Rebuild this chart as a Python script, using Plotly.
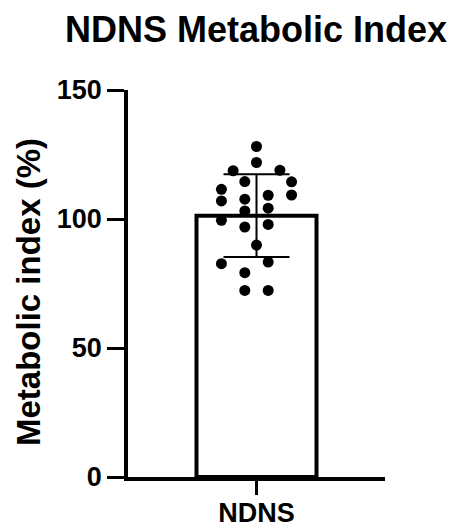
import plotly.graph_objects as go

# Data
category = ["NDNS"]
bar_mean = [101.3]
bar_sd = [16.0]
points = [128.1, 121.9, 118.7, 118.9, 114.5, 114.4, 111.5, 109.3, 109.2, 107.0,
          107.7, 104.2, 103.1, 99.5, 96.9, 97.9, 89.9, 82.7, 83.3, 79.2, 72.3, 72.3]
# column index of each dot in the scatter (beeswarm layout)
columns = [0, 0, -2, 2, -1, 3, -3, 3, 1, -3, -1, 1, -1, -3, -1, 1, 0, -3, 1, -1, -1, 1]
yticks = [0, 50, 100, 150]

W, H = 455, 529
L, R, T, B = 128, 70, 90, 52
spacing = 0.091
FONT = "Liberation Sans, Arial, sans-serif"

fig = go.Figure()
fig.add_trace(go.Bar(
    x=[0], y=bar_mean, width=0.934,
    marker=dict(color="white", line=dict(color="black", width=4)),
    error_y=dict(type="data", array=bar_sd, visible=True, color="black", thickness=2, width=33),
    showlegend=False, hoverinfo="skip",
))
fig.add_trace(go.Scatter(
    x=[c * spacing for c in columns], y=points, mode="markers",
    marker=dict(color="black", size=11, line=dict(width=0)),
    showlegend=False,
))

fig.update_layout(
    width=W, height=H,
    margin=dict(l=L, r=R, t=T, b=B, autoexpand=False),
    plot_bgcolor="white", paper_bgcolor="white",
    font=dict(family=FONT, color="black"),
    title=dict(text="<b>NDNS Metabolic Index</b>", font=dict(size=36, family=FONT, color="black"),
               x=256 / W, xref="container", xanchor="center",
               y=1 - 29 / H, yref="container", yanchor="middle"),
    xaxis=dict(range=[-1, 1], tickvals=[0], ticktext=["<b>" + category[0] + "</b>"],
               showline=True, linecolor="black", linewidth=3.5, ticks="outside",
               ticklen=14, tickwidth=3, tickcolor="black", showgrid=False, zeroline=False,
               automargin=False, ticklabelstandoff=-5,
               tickfont=dict(size=27, family=FONT, color="black")),
    yaxis=dict(range=[0, 150], tickvals=yticks, ticktext=["<b>%d</b>" % v for v in yticks],
               showline=True, linecolor="black", linewidth=3.5, ticks="outside",
               ticklen=17, tickwidth=3, tickcolor="black", showgrid=False, zeroline=False,
               automargin=False,
               tickfont=dict(size=27, family=FONT, color="black")),
    annotations=[dict(text="<b>Metabolic index (%)</b>", textangle=-90,
                      xref="paper", yref="paper", x=(28 - L) / (W - L - R), y=(H - B - 292) / (H - T - B),
                      xanchor="center", yanchor="middle", showarrow=False,
                      font=dict(size=33, family=FONT, color="black"))],
)

fig.write_html("out.html")
